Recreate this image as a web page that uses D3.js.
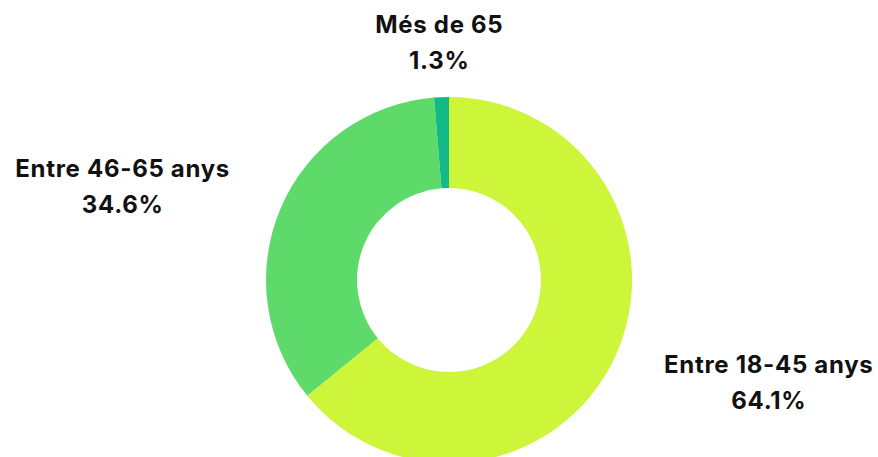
<!DOCTYPE html>
<html>
<head>
<meta charset="utf-8">
<script src="https://cdn.jsdelivr.net/npm/d3@7"></script>
<style>
  html, body { margin: 0; padding: 0; background: #fff; }
  svg { display: block; }
  text { font-family: Inter, "Noto Sans", sans-serif; font-weight: 700; fill: #111; letter-spacing: 0.7px; }
</style>
</head>
<body>
<svg id="chart" width="878" height="457"></svg>
<script>
const categories = ["Entre 18-45 anys", "Entre 46-65 anys", "Més de 65"];
const values = [64.1, 34.6, 1.3];
const colors = ["#CDF53A", "#5DDA6A", "#12B886"];

const width = 878, height = 457;
const cx = 449, cy = 280;
const outerR = 183, innerR = 92, labelR = 238;

const svg = d3.select("#chart");
const g = svg.append("g").attr("transform", `translate(${cx},${cy})`);

const data = categories.map((c, i) => ({ name: c, value: values[i], color: colors[i] }));
const pie = d3.pie().value(d => d.value).sort(null);
const arcs = pie(data);
const arc = d3.arc().innerRadius(innerR).outerRadius(outerR);

g.selectAll("path").data(arcs).enter().append("path")
  .attr("d", arc)
  .attr("fill", d => d.data.color);

const fmt = d3.format(".1f");
arcs.forEach(a => {
  const ang = (a.startAngle + a.endAngle) / 2;
  const s = Math.sin(ang), c = Math.cos(ang);
  const x = labelR * s, y = -labelR * c;
  const lines = [a.data.name, fmt(a.data.value) + "%"];
  const t = g.append("text").attr("text-anchor", "middle").attr("font-size", 24);
  const spans = lines.map((l, i) => t.append("tspan").attr("y", y - 9.5 + i * 36).text(l));
  const w = d3.max(spans, sp => sp.node().getComputedTextLength());
  let bx = x;
  if (Math.abs(s) >= 0.2) bx = s > 0 ? x + w / 2 : x - w / 2;
  spans.forEach(sp => sp.attr("x", bx));
});
</script>
</body>
</html>
